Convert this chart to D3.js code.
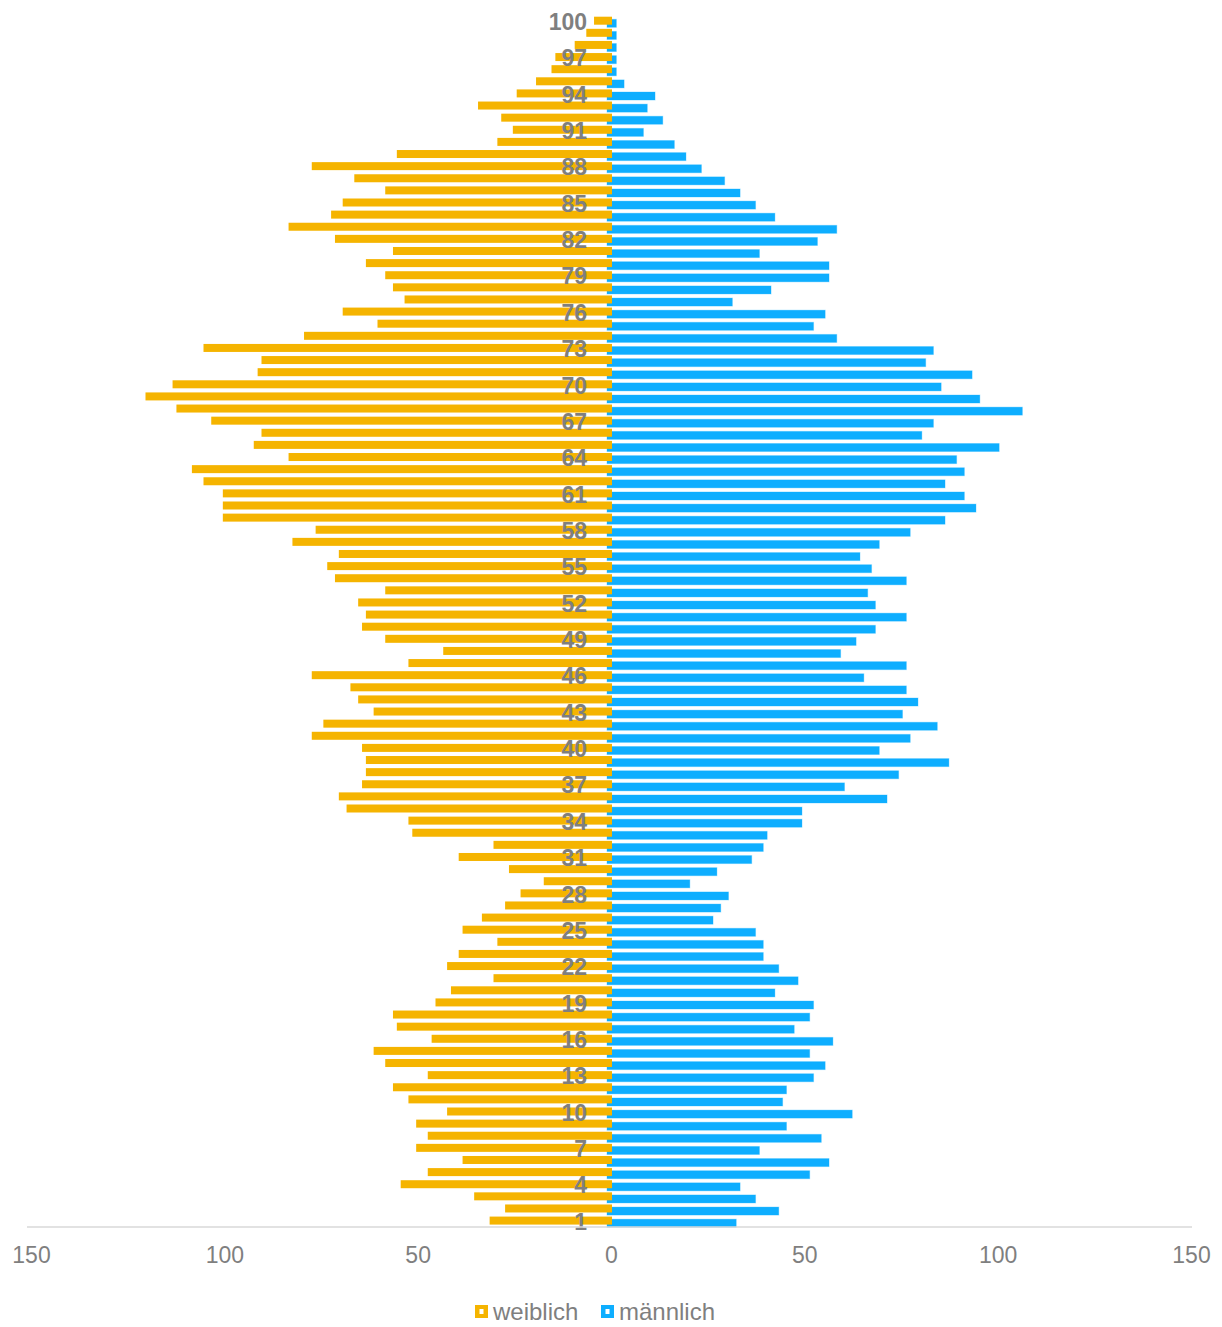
<!DOCTYPE html>
<html>
<head>
<meta charset="utf-8">
<script src="https://cdn.jsdelivr.net/npm/d3@7"></script>
<style>
  body { margin: 0; background: #fff; }
  svg { display: block; font-family: "Liberation Sans", Arial, sans-serif; }
</style>
</head>
<body>
<svg id="chart" width="1222" height="1327"></svg>
<script>
// ages 100 .. 1 (top to bottom)
var ages = d3.range(100, 0, -1);

// weiblich, age 100 down to 1
var female = [
  4, 6, 9, 14, 15, 19, 24, 34, 28, 25,
  29, 55, 77, 66, 58, 69, 72, 83, 71, 56,
  63, 58, 56, 53, 69, 60, 79, 105, 90, 91,
  113, 120, 112, 103, 90, 92, 83, 108, 105, 100,
  100, 100, 76, 82, 70, 73, 71, 58, 65, 63,
  64, 58, 43, 52, 77, 67, 65, 61, 74, 77,
  64, 63, 63, 64, 70, 68, 52, 51, 30, 39,
  26, 17, 23, 27, 33, 38, 29, 39, 42, 30,
  41, 45, 56, 55, 46, 61, 58, 47, 56, 52,
  42, 50, 47, 50, 38, 47, 54, 35, 27, 31
];

// männlich, age 100 down to 1
var male = [
  1, 1, 1, 1, 1, 3, 11, 9, 13, 8,
  16, 19, 23, 29, 33, 37, 42, 58, 53, 38,
  56, 56, 41, 31, 55, 52, 58, 83, 81, 93,
  85, 95, 106, 83, 80, 100, 89, 91, 86, 91,
  94, 86, 77, 69, 64, 67, 76, 66, 68, 76,
  68, 63, 59, 76, 65, 76, 79, 75, 84, 77,
  69, 87, 74, 60, 71, 49, 49, 40, 39, 36,
  27, 20, 30, 28, 26, 37, 39, 39, 43, 48,
  42, 52, 51, 47, 57, 51, 55, 52, 45, 44,
  62, 45, 54, 38, 56, 51, 33, 37, 43, 32
];

var ageLabels = d3.range(100, 0, -3);
var xTicks = [-150, -100, -50, 0, 50, 100, 150];
var seriesNames = ["weiblich", "männlich"];

var orange = "#f5b400";
var blue = "#0eaeff";
var grey = "#7f7f7f";

var svg = d3.select("#chart");

var x = d3.scaleLinear().domain([-150, 150]).range([31, 1191]);
var y = d3.scaleBand().domain(ages).range([13.5, 1225.5]);

// male bars first, female drawn over them
svg.append("g").selectAll("rect")
  .data(male)
  .join("rect")
  .attr("x", x(0) - 4)
  .attr("y", function(d, i) { return y(ages[i]) + 5.8; })
  .attr("width", function(d) { return x(d) - x(0) + 5.5; })
  .attr("height", 8)
  .attr("fill", blue)
  .attr("stroke", "rgba(14,174,255,0.3)")
  .attr("stroke-width", 1);

svg.append("g").selectAll("rect")
  .data(female)
  .join("rect")
  .attr("x", function(d) { return x(-d) - 1.5; })
  .attr("y", function(d, i) { return y(ages[i]) + 3.2; })
  .attr("width", function(d) { return x(0) - x(-d) + 2.5; })
  .attr("height", 8)
  .attr("fill", orange);

// age labels
var yAxis = svg.append("g")
  .attr("transform", "translate(587,3)")
  .call(d3.axisLeft(y).tickValues(ageLabels).tickSize(0).tickPadding(0));
yAxis.select(".domain").remove();
yAxis.selectAll("text")
  .attr("fill", grey)
  .style("font-size", "23px")
  .style("font-weight", "bold")
  .style("font-family", "'Liberation Sans', Arial, sans-serif");

// x axis line
svg.append("line")
  .attr("x1", x(-150) - 4).attr("x2", x(150) + 1)
  .attr("y1", 1227).attr("y2", 1227)
  .attr("stroke", "#d9d9d9")
  .attr("stroke-width", 1.5);

var xAxis = svg.append("g")
  .attr("transform", "translate(0,1247)")
  .call(d3.axisBottom(x).tickValues(xTicks).tickSize(0).tickPadding(0)
    .tickFormat(function(d) { return Math.abs(d); }));
xAxis.select(".domain").remove();
xAxis.selectAll("text")
  .attr("fill", grey)
  .attr("dy", "0.71em")
  .style("font-size", "23px")
  .style("font-family", "'Liberation Sans', Arial, sans-serif");

// legend
var legend = svg.append("g").attr("transform", "translate(475,1305)");
var items = [
  { name: seriesNames[0], color: orange, x: 0 },
  { name: seriesNames[1], color: blue, x: 126 }
];
var li = legend.selectAll("g")
  .data(items)
  .join("g")
  .attr("transform", function(d) { return "translate(" + d.x + ",0)"; });
li.append("rect")
  .attr("width", 13).attr("height", 13)
  .attr("fill", function(d) { return d.color; });
li.append("rect")
  .attr("x", 4.5).attr("y", 4).attr("width", 4).attr("height", 5)
  .attr("fill", "#fff");
li.append("text")
  .attr("x", 18)
  .attr("y", 15)
  .attr("fill", grey)
  .style("font-size", "24px")
  .text(function(d) { return d.name; });
</script>
</body>
</html>
